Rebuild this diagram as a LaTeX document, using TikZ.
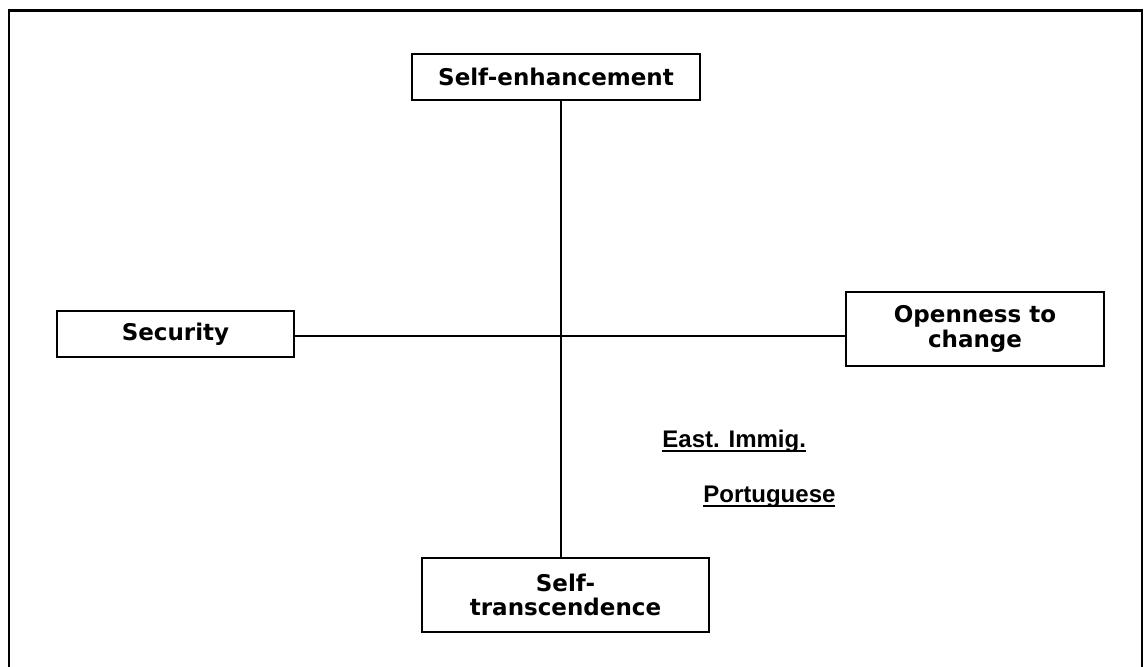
\documentclass[tikz,border=0pt]{standalone}
\usepackage{fontspec}
\setmainfont{DejaVu Sans}
\newfontfamily\arialfont{Liberation Sans}
\usepackage{tikz}
\usetikzlibrary{positioning,calc}

% underline in the Word manner (through the descenders)
\newcommand{\wordul}[1]{\setbox0\hbox{#1}\rlap{\rule[-2.7pt]{\wd0}{1.2pt}}\box0}

\begin{document}
\begin{tikzpicture}[
  x=0.5pt, y=-0.5pt,
  axisbox/.style={draw, line width=1.3pt, align=center, inner sep=0pt,
    font=\fontsize{11.5}{12.2}\selectfont\bfseries},
  axisline/.style={line width=0.65pt},
  group/.style={anchor=base west, inner sep=0pt,
    font=\arialfont\fontsize{12}{14}\selectfont\bfseries}
]
\useasboundingbox (0,0) rectangle (1144,666);

% Frame
\draw[line width=1.3pt] (9,10.5) rectangle (1142,720);

% Crossing point of the two axes
\coordinate (cross) at (561,336);

% Self-enhancement
\node[axisbox, minimum width=144pt, minimum height=23pt] (enh) at (556,77)
  {Self-enhancement};

% Security
\node[axisbox, minimum width=118.5pt, minimum height=23pt] (sec) at (175.5,334)
  {Security};

% Openness to change
\node[axisbox, minimum width=129pt, minimum height=37pt] (open) at (975,329)
  {Openness to\\change};

% Self-transcendence
\node[axisbox, minimum width=143.5pt, minimum height=37pt] (trans) at (565.5,595)
  {Self-\\transcendence};

% Axes
\draw[axisline] (enh.south -| cross) -- (trans.north -| cross);
\draw[axisline] (sec.east |- cross) -- (open.west |- cross);

% Groups
\node[group] (east) at (662,447) {\wordul{East. Immig.}};
\node[group] (port) at (703,502) {\wordul{Portuguese}};

\end{tikzpicture}
\end{document}
